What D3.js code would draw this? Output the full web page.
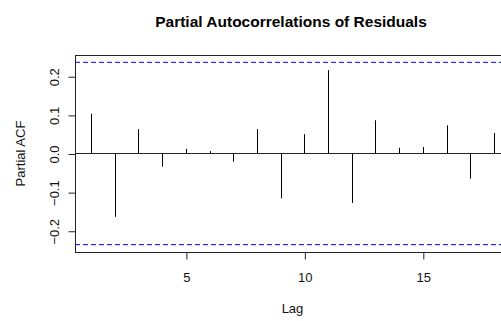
<!DOCTYPE html>
<html>
<head>
<meta charset="utf-8">
<script src="https://cdn.jsdelivr.net/npm/d3@7"></script>
<style>
  html, body { margin: 0; padding: 0; background: #fff; }
  svg { display: block; font-family: "Liberation Sans", Arial, Helvetica, sans-serif; }
</style>
</head>
<body>
<svg id="chart" width="501" height="321"></svg>
<script>
// Data
const lags = [1, 2, 3, 4, 5, 6, 7, 8, 9, 10, 11, 12, 13, 14, 15, 16, 17, 18];
const pacfValues = [0.103, -0.164, 0.063, -0.034, 0.012, 0.006, -0.021, 0.063, -0.116, 0.050,
                    0.216, -0.128, 0.086, 0.015, 0.017, 0.073, -0.065, 0.053];
const confLimit = 0.236;
const xTicks = [5, 10, 15];
const yTicks = [-0.2, -0.1, 0.0, 0.1, 0.2];
const titleText = "Partial Autocorrelations of Residuals";
const xLabel = "Lag";
const yLabel = "Partial ACF";

(function () {
const svg = d3.select("#chart");
const pLeft = 75, pRight = 510, pTop = 55, pBottom = 252;
const fs = 13;

const x = d3.scaleLinear().domain([0.32, 18.68]).range([pLeft, pRight]);
const y = d3.scaleLinear().domain([-0.255, 0.255]).range([pBottom, pTop]);

// Confidence limits
[confLimit, -confLimit].forEach(c => {
  svg.append("line")
    .attr("x1", pLeft).attr("x2", pRight)
    .attr("y1", y(c)).attr("y2", y(c))
    .attr("stroke", "#0000ff").attr("stroke-width", 1)
    .attr("stroke-dasharray", "5,3");
});

// Zero line
svg.append("line")
  .attr("x1", pLeft).attr("x2", pRight)
  .attr("y1", y(0)).attr("y2", y(0))
  .attr("stroke", "#222").attr("stroke-width", 1);

// Bars (spikes)
svg.selectAll("line.spike")
  .data(lags.map((l, i) => ({ lag: l, v: pacfValues[i] })))
  .enter().append("line")
  .attr("class", "spike")
  .attr("x1", d => Math.round(x(d.lag)) + 0.5)
  .attr("x2", d => Math.round(x(d.lag)) + 0.5)
  .attr("y1", y(0))
  .attr("y2", d => y(d.v))
  .attr("stroke", "#000").attr("stroke-width", 1);

// Box
svg.append("rect")
  .attr("x", pLeft + 0.5).attr("y", pTop + 0.5)
  .attr("width", pRight - pLeft).attr("height", pBottom - pTop)
  .attr("fill", "none").attr("stroke", "#222").attr("stroke-width", 1);

// X axis
const xAxis = d3.axisBottom(x).tickValues(xTicks).tickSize(7).tickPadding(13)
  .tickFormat(d3.format("d"));
const gx = svg.append("g").attr("transform", `translate(0.5,${pBottom + 0.5})`).call(xAxis);
gx.select(".domain").attr("d", `M${x(xTicks[0])},0H${x(xTicks[xTicks.length - 1])}`).attr("stroke", "#222");
gx.selectAll(".tick line").attr("stroke", "#222");
gx.selectAll(".tick text").attr("font-size", fs).attr("fill", "#111")
  .attr("font-family", "Liberation Sans, Arial, sans-serif");

// Y axis
const yAxis = d3.axisLeft(y).tickValues(yTicks).tickSize(7).tickFormat(d3.format(".1f"));
const gy = svg.append("g").attr("transform", `translate(${pLeft + 0.5},0.5)`).call(yAxis);
gy.select(".domain").attr("d", `M0,${y(yTicks[0])}V${y(yTicks[yTicks.length - 1])}`).attr("stroke", "#222");
gy.selectAll(".tick line").attr("stroke", "#222");
gy.selectAll(".tick text")
  .attr("font-size", fs).attr("fill", "#111")
  .attr("font-family", "Liberation Sans, Arial, sans-serif")
  .attr("x", null)
  .attr("text-anchor", "middle")
  .attr("transform", `translate(-21,0) rotate(-90)`)
  .attr("dy", "0.35em");

// Title
svg.append("text")
  .attr("x", 291).attr("y", 26.5)
  .attr("text-anchor", "middle")
  .attr("font-size", 15.5).attr("font-weight", "bold").attr("fill", "#000")
  .text(titleText);

// Axis labels
svg.append("text")
  .attr("x", (pLeft + pRight) / 2).attr("y", 313)
  .attr("text-anchor", "middle")
  .attr("font-size", fs).attr("fill", "#111")
  .text(xLabel);

svg.append("text")
  .attr("transform", `translate(25,${(pTop + pBottom) / 2}) rotate(-90)`)
  .attr("text-anchor", "middle")
  .attr("font-size", fs).attr("fill", "#111")
  .text(yLabel);
})();
</script>
</body>
</html>
